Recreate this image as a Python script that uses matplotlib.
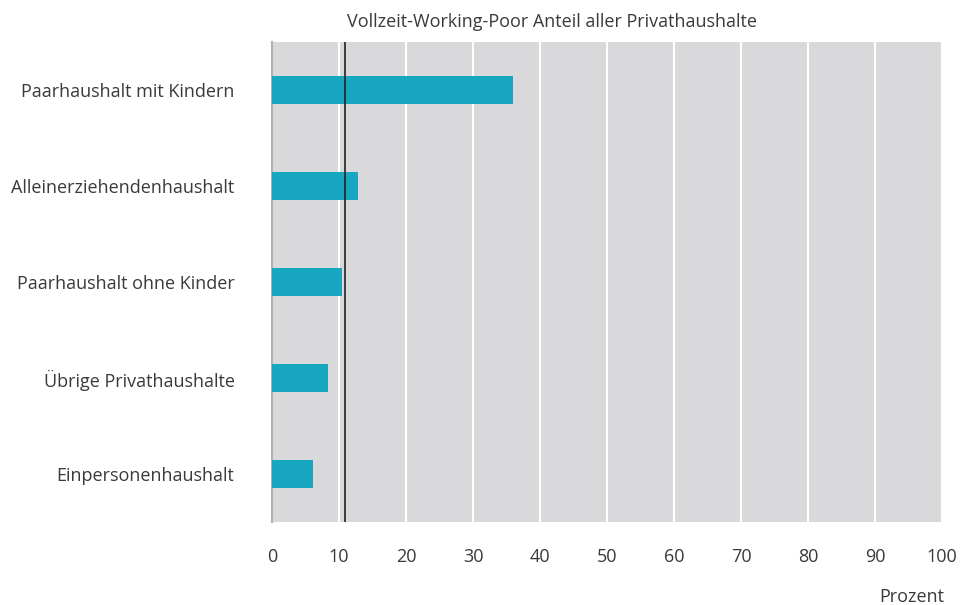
import matplotlib.pyplot as plt

categories = ["Paarhaushalt mit Kindern", "Alleinerziehendenhaushalt",
              "Paarhaushalt ohne Kinder", "Übrige Privathaushalte",
              "Einpersonenhaushalt"]
values = [36.0, 12.8, 10.4, 8.4, 6.1]
reference = 10.9
xticks = [0, 10, 20, 30, 40, 50, 60, 70, 80, 90, 100]

plt.rcParams['font.family'] = ['Open Sans', 'DejaVu Sans']

fig = plt.figure(figsize=(9.62, 6.05), dpi=100)
ax = fig.add_axes([272 / 962, 1 - 522 / 605, 670 / 962, 480 / 605])
ax.set_facecolor('#d9d9db')

ypos = list(range(len(categories)))
ax.barh(ypos, values, height=0.3, color='#17a7c1', zorder=3)
ax.axvline(reference, color='#222222', lw=1.2, zorder=4)

ax.set_xlim(0, 100)
ax.set_ylim(4.5, -0.5)
ax.set_xticks(xticks)
ax.set_yticks(ypos)
ax.set_yticklabels(categories)
ax.grid(axis='x', color='white', lw=1.5, zorder=1)
ax.set_axisbelow(True)

for s in ['top', 'right', 'bottom']:
    ax.spines[s].set_visible(False)
ax.spines['left'].set_color('#b0b0b0')
ax.spines['left'].set_linewidth(1.5)

ax.tick_params(axis='both', length=0, labelsize=13, colors='#3a3a3a')
ax.tick_params(axis='x', pad=19)
ax.tick_params(axis='y', pad=27)

fig.text(552 / 962, 1 - 22 / 605, "Vollzeit-Working-Poor Anteil aller Privathaushalte",
         ha='center', va='center', fontsize=13, color='#3a3a3a')
fig.text(944 / 962, 1 - 597 / 605, "Prozent", ha='right', va='center',
         fontsize=13, color='#3a3a3a')

fig.savefig("out.png", dpi=100)
